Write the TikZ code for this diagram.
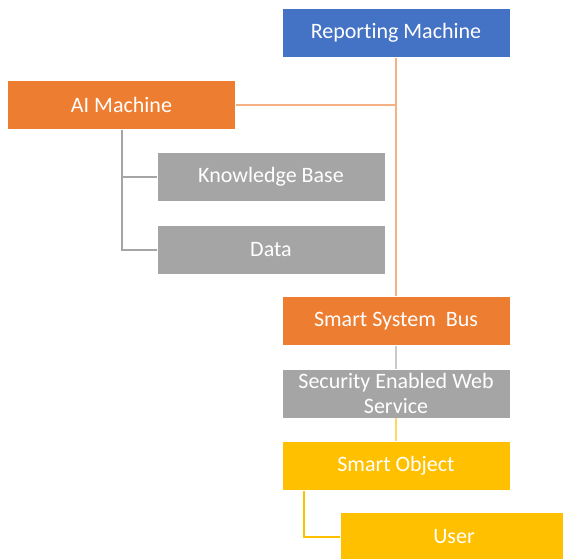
\documentclass[tikz,border=0pt]{standalone}
\usepackage{fontspec}
\setmainfont[RawFeature={-liga;-clig;-calt;-dlig}]{Carlito}
\usetikzlibrary{arrows.meta}
\usetikzlibrary{positioning,calc}

\definecolor{rmblue}{HTML}{4472C4}
\definecolor{aiorange}{HTML}{ED7D31}
\definecolor{kbgray}{HTML}{A5A5A5}
\definecolor{soyellow}{HTML}{FFC000}
\definecolor{lineorange}{HTML}{F4B183}
\definecolor{linegray}{HTML}{A5A5A5}
\definecolor{lightgray}{HTML}{C9C9C9}
\definecolor{lightyellow}{HTML}{FFD966}

\tikzset{
    box/.style={draw=white, line width=0.8pt, minimum width=228pt, minimum height=49pt,
        inner sep=0pt, text=white, align=center, font=\fontsize{22}{25}\selectfont},
    link/.style={line width=2pt},
}

\begin{document}
\begin{tikzpicture}[x=1pt,y=-1pt]
\useasboundingbox (0,0) rectangle (563,559);
    %boxes
    \node[box, fill=rmblue] (rm) at (396,33) {Reporting Machine};
    \node[box, fill=aiorange] (ai) at (121.5,105) {AI Machine};
    \node[box, fill=kbgray] (kb) at (271,177) {Knowledge Base};
    \node[box, fill=kbgray] (data) at (271,250) {Data};
    \node[box, fill=aiorange] (ssb) at (396,321) {Smart System\ \ Bus};
    \node[box, fill=kbgray] (sews) at (396,393.5) {Security Enabled Web\\Service};
    \node[box, fill=soyellow] (so) at (396,466) {Smart Object};
    \node[box, fill=soyellow] (user) at (454,537) {User};
    %connectors
    \draw[link, lineorange] (rm.south) -- (ssb.north);
    \draw[link, lineorange] (ai.east) -- (ai.east -| rm.south);
    \draw[link, linegray] (ai.south) |- (kb.west);
    \draw[link, linegray] (ai.south) |- (data.west);
    \draw[link, lightgray] (ssb.south) -- (sews.north);
    \draw[link, lightyellow] (sews.south) -- (so.north);
    \draw[link, soyellow] ([xshift=22pt]so.south west) |- (user.west);
\end{tikzpicture}
\end{document}
